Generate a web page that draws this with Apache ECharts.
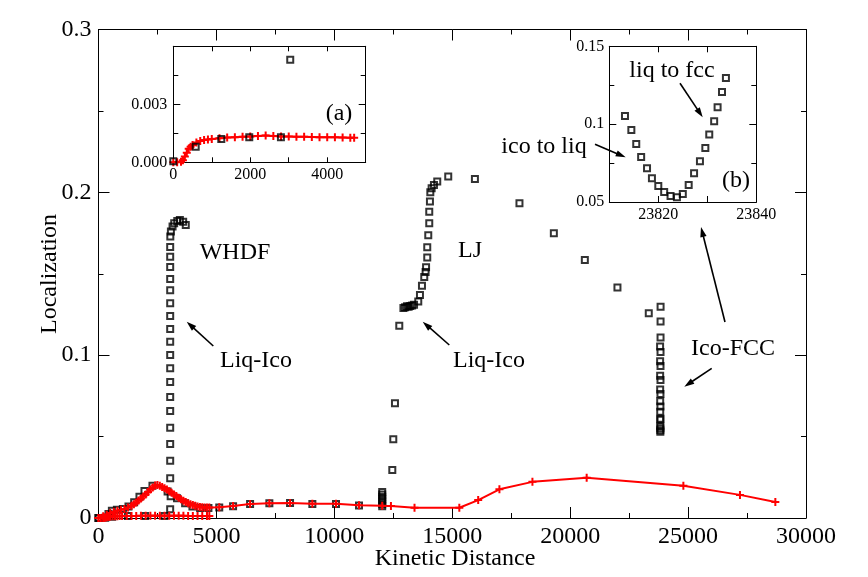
<!DOCTYPE html>
<html>
<head>
<meta charset="utf-8">
<script src="https://cdn.jsdelivr.net/npm/echarts@6/dist/echarts.min.js"></script>
<style>html,body{margin:0;padding:0;background:#fff}#c{width:868px;height:577px}</style>
</head>
<body>
<div id="c"></div>
<script>
// ---------- data ----------
const mainXTicks = [0, 5000, 10000, 15000, 20000, 25000, 30000];
const mainYTicks = [0, 0.1, 0.2, 0.3];

// WHDF open squares (x, localization)
const whdfSquares = [
  [0,0.00005],[582,0.0008],[1247,0.0012],[1974,0.0013],[2797,0.0013],[3039,0.0053],
  [3040,0.0244],[3040,0.0352],[3040,0.0455],[3040,0.0555],[3040,0.0657],[3040,0.0743],
  [3040,0.0835],[3040,0.092],[3040,0.1001],[3040,0.1083],[3040,0.1161],[3040,0.1241],
  [3040,0.1319],[3040,0.1399],[3040,0.1468],[3040,0.1542],[3040,0.1605],[3040,0.1665],
  [3045,0.1728],[3070,0.176],[3140,0.179],[3210,0.181],[3340,0.1824],[3450,0.183],
  [3590,0.182],[3700,0.180]
];
// WHDF red curve
const whdfCurve = [
  [0,0],[100,0],[200,0.00003],[250,0.0001],[300,0.0003],[350,0.0005],[400,0.0007],
  [450,0.0008],[500,0.0009],[600,0.00102],[700,0.0011],[800,0.00115],[900,0.00118],
  [1000,0.0012],[1200,0.00124],[1400,0.00128],[1600,0.0013],[1800,0.00132],[2000,0.00134],
  [2200,0.00136],[2400,0.00138],[2600,0.00136],[2800,0.00134],[3000,0.00134],[3200,0.00132],
  [3400,0.00132],[3600,0.00131],[3800,0.0013],[4000,0.0013],[4200,0.00129],[4400,0.00128],
  [4600,0.00127],[4700,0.00127]
];
// LJ open squares
const ljSquares = [
  [0,0],[284,0.0002],[424,0.0025],[567,0.0045],[780,0.005],[1034,0.0055],[1271,0.007],
  [1513,0.0096],[1737,0.013],[1949,0.0166],[2288,0.0198],[2930,0.0162],[3060,0.0133],
  [3330,0.0121],[3673,0.009],[3983,0.007],[4309,0.0061],[4661,0.0061],[5120,0.0065],
  [5707,0.0072],[6428,0.0086],[7245,0.009],[8122,0.0092],[9068,0.0086],[10071,0.0086],
  [11046,0.0076],[12030,0.0072],[12030,0.0085],[12030,0.0100],[12030,0.0115],[12030,0.0130],
  [12030,0.0145],[12030,0.016],[12458,0.0295],[12500,0.0483],[12571,0.0704],[12754,0.1181],
  [12930,0.1290],[13000,0.1295],[13080,0.1300],[13150,0.1297],[13220,0.1302],[13300,0.1305],
  [13380,0.1310],[13559,0.133],[13631,0.137],[13716,0.1427],[13813,0.148],[13870,0.151],
  [13890,0.154],[13940,0.160],[13940,0.1663],[13983,0.1736],[14025,0.181],[14025,0.188],
  [14054,0.1943],[14070,0.200],[14126,0.2025],[14224,0.2045],[14364,0.2066],[14830,0.2097],
  [15961,0.2082],[17850,0.1933],[19308,0.1749],[20622,0.1585],[22005,0.1415],[23333,0.1257]
];
// LJ ico -> liq -> fcc points (inset b and the vertical column)
const ljFccSquares = [
  [23813.2,0.1053],[23814.5,0.0963],[23815.5,0.0873],[23816.5,0.0789],[23817.7,0.0717],
  [23818.7,0.0652],[23820.0,0.0603],[23821.2,0.0564],[23822.5,0.0539],[23823.8,0.0530],
  [23825.0,0.0551],[23826.2,0.0609],[23827.3,0.0684],[23828.5,0.0761],[23829.6,0.0847],
  [23830.4,0.0933],[23831.4,0.1019],[23832.1,0.1109],[23833.0,0.1207],[23833.8,0.1297]
];
// LJ red curve
const ljCurve = [
  [0,0],[200,0.001],[350,0.002],[500,0.003],[650,0.0038],[800,0.0045],[950,0.005],
  [1100,0.0055],[1250,0.0064],[1400,0.0075],[1500,0.0085],[1600,0.0095],[1700,0.0107],
  [1800,0.012],[1900,0.0132],[2000,0.0145],[2100,0.016],[2200,0.0175],[2300,0.0188],
  [2400,0.020],[2500,0.0203],[2600,0.0198],[2700,0.019],[2800,0.0183],[2900,0.0175],
  [3000,0.0165],[3100,0.0155],[3200,0.0145],[3300,0.0135],[3400,0.0125],[3500,0.0115],
  [3600,0.0106],[3700,0.0098],[3800,0.0091],[3900,0.0085],[4000,0.008],[4100,0.0075],
  [4200,0.0071],[4300,0.0068],[4400,0.0066],[4500,0.0065],[4600,0.0064],[4700,0.0064],
  [5120,0.0066],[5707,0.0074],[6428,0.0086],[7245,0.009],[8122,0.0092],[9068,0.0088],
  [10071,0.0087],[11046,0.0078],[12030,0.0075],[12400,0.0074],[13400,0.0063],
  [15300,0.0063],[16100,0.011],[17000,0.0176],[18400,0.0222],[20700,0.0247],
  [24800,0.0198],[27200,0.0142],[28700,0.0098]
];
const insetAXTicks = [0, 2000, 4000];
const insetAYTicks = [0, 0.003];
const insetBXTicks = [23820, 23840];
const insetBYTicks = [0.05, 0.1, 0.15];

// ---------- styling ----------
const SERIF = '"Liberation Serif", "DejaVu Serif", serif';
const black = '#000';
const plusPath = 'path://M3,0H5V3H8V5H5V8H3V5H0V3H3Z';
const sqStyle = {color: 'rgba(0,0,0,0)', borderColor: black, borderWidth: 2};

const chart = echarts.init(document.getElementById('c'), null, {renderer: 'canvas'});

function xAx(grid, pos, opts) {
  return Object.assign({
    type: 'value', gridIndex: grid, position: pos,
    axisLine: {show: true, onZero: false, lineStyle: {color: black, width: 1}},
    axisTick: {show: true, inside: true, length: 11, lineStyle: {color: black, width: 1}},
    minorTick: {show: true, splitNumber: 2, length: 5, lineStyle: {color: black, width: 1}},
    splitLine: {show: false}, minorSplitLine: {show: false}
  }, opts);
}

const labelMain = {fontFamily: SERIF, fontSize: 24, color: black};
const labelSmall = {fontFamily: SERIF, fontSize: 16, color: black};
const smallTick = {show: true, inside: true, length: 7, lineStyle: {color: black}};
const smallMinor = {show: true, splitNumber: 2, length: 5, lineStyle: {color: black}};

const option = {
  animation: false,
  backgroundColor: '#fff',
  grid: [
    {left: 98.5, top: 29.5, width: 707.5, height: 488.5, containLabel: false},
    {left: 173.3, top: 46.3, width: 192.4, height: 116, containLabel: false, show: true, backgroundColor: '#fff', borderWidth: 0},
    {left: 609.3, top: 46.3, width: 147, height: 155.7, containLabel: false, show: true, backgroundColor: '#fff', borderWidth: 0}
  ],
  xAxis: [
    xAx(0, 'bottom', {min: 0, max: 30000, interval: 5000,
      axisLabel: Object.assign({margin: 7, showMaxLabel: true, showMinLabel: true,
        formatter: v => mainXTicks.includes(v) ? String(v) : ''}, labelMain)}),
    xAx(0, 'top', {min: 0, max: 30000, interval: 5000, axisLabel: {show: false}}),
    xAx(1, 'bottom', {min: 0, max: 5000, interval: 1000,
      axisTick: {show: true, inside: true, length: 5, lineStyle: {color: black}},
      minorTick: {show: false},
      axisLabel: Object.assign({margin: 4, showMaxLabel: false,
        formatter: v => insetAXTicks.includes(v) ? String(v) : ''}, labelSmall)}),
    xAx(1, 'top', {min: 0, max: 5000, interval: 1000,
      axisTick: {show: true, inside: true, length: 5, lineStyle: {color: black}},
      minorTick: {show: false}, axisLabel: {show: false}}),
    xAx(2, 'bottom', {min: 23810, max: 23840, interval: 10,
      axisTick: {show: true, inside: true, length: 6, lineStyle: {color: black}},
      minorTick: {show: false},
      axisLabel: Object.assign({margin: 5, showMaxLabel: true,
        formatter: v => insetBXTicks.includes(Math.round(v)) ? String(Math.round(v)) : ''}, labelSmall)}),
    xAx(2, 'top', {min: 23810, max: 23840, interval: 10,
      axisTick: {show: true, inside: true, length: 6, lineStyle: {color: black}},
      minorTick: {show: false}, axisLabel: {show: false}})
  ],
  yAxis: [
    xAx(0, 'left', {min: 0, max: 0.3, interval: 0.1,
      axisLabel: Object.assign({margin: 7,
        formatter: v => v === 0 ? '0' : (+v.toFixed(1)).toString()}, labelMain)}),
    xAx(0, 'right', {min: 0, max: 0.3, interval: 0.1, axisLabel: {show: false}}),
    xAx(1, 'left', {min: 0, max: 0.006, interval: 0.003, axisTick: smallTick, minorTick: smallMinor,
      axisLabel: Object.assign({margin: 6, showMaxLabel: false,
        formatter: v => v.toFixed(3)}, labelSmall)}),
    xAx(1, 'right', {min: 0, max: 0.006, interval: 0.003, axisTick: smallTick, minorTick: smallMinor,
      axisLabel: {show: false}}),
    xAx(2, 'left', {min: 0.05, max: 0.15, interval: 0.05, axisTick: smallTick, minorTick: smallMinor,
      axisLabel: Object.assign({margin: 5, showMaxLabel: true,
        formatter: v => (+v.toFixed(2)).toString()}, labelSmall)}),
    xAx(2, 'right', {min: 0.05, max: 0.15, interval: 0.05, axisTick: smallTick, minorTick: smallMinor,
      axisLabel: {show: false}})
  ],
  series: [
    {type: 'scatter', name: 'LJ', xAxisIndex: 0, yAxisIndex: 0, data: ljSquares.concat(ljFccSquares),
     symbol: 'rect', symbolSize: 6, itemStyle: sqStyle, z: 3},
    {type: 'scatter', name: 'WHDF', xAxisIndex: 0, yAxisIndex: 0, data: whdfSquares,
     symbol: 'rect', symbolSize: 6, itemStyle: sqStyle, z: 3},
    {type: 'line', name: 'LJ fit', xAxisIndex: 0, yAxisIndex: 0, data: ljCurve,
     symbol: plusPath, symbolSize: 8, showSymbol: true, showAllSymbol: true,
     itemStyle: {color: '#ff0000'}, lineStyle: {color: '#ff0000', width: 2}, z: 4},
    {type: 'line', name: 'WHDF fit', xAxisIndex: 0, yAxisIndex: 0, data: whdfCurve,
     symbol: plusPath, symbolSize: 8, showSymbol: true, showAllSymbol: true,
     itemStyle: {color: '#ff0000'}, lineStyle: {color: '#ff0000', width: 2}, z: 4},
    {type: 'scatter', name: 'WHDF (a)', xAxisIndex: 2, yAxisIndex: 2, data: whdfSquares, clip: true,
     symbol: 'rect', symbolSize: 6, itemStyle: sqStyle, z: 5},
    {type: 'line', name: 'WHDF fit (a)', xAxisIndex: 2, yAxisIndex: 2, data: whdfCurve, clip: true,
     symbol: plusPath, symbolSize: 8, showSymbol: true, showAllSymbol: true,
     itemStyle: {color: '#ff0000'}, lineStyle: {color: '#ff0000', width: 2}, z: 4},
    {type: 'scatter', name: 'LJ (b)', xAxisIndex: 4, yAxisIndex: 4, data: ljFccSquares, clip: true,
     symbol: 'rect', symbolSize: 6, itemStyle: sqStyle, z: 5}
  ]
};

// ---------- annotations ----------
function arrow(x1, y1, x2, y2) {
  const dx = x2 - x1, dy = y2 - y1, L = Math.hypot(dx, dy), ux = dx / L, uy = dy / L;
  const hl = 10, hw = 3.2;
  const bx = x2 - ux * hl, by = y2 - uy * hl, px = -uy, py = ux;
  return [
    {type: 'line', shape: {x1: x1, y1: y1, x2: bx + ux * 2, y2: by + uy * 2}, style: {stroke: black, lineWidth: 1.6}, z: 20},
    {type: 'polygon', shape: {points: [[x2, y2], [bx + px * hw, by + py * hw], [bx - px * hw, by - py * hw]]}, style: {fill: black}, z: 20}
  ];
}
function txt(t, x, y, size, rot) {
  return {type: 'text', x: x, y: y, rotation: rot || 0, z: 20,
    style: {text: t, fontFamily: SERIF, fontSize: size, fill: black, align: 'center', verticalAlign: 'middle'}};
}
option.graphic = [].concat(
  [txt('WHDF', 235, 253, 24), txt('Liq-Ico', 256, 361, 24), txt('LJ', 470, 251, 24),
   txt('Liq-Ico', 489, 361, 24), txt('Ico-FCC', 733, 349, 24),
   txt('ico to liq', 544, 147, 24), txt('liq to fcc', 672, 71, 24),
   txt('(a)', 339, 114, 24), txt('(b)', 736, 181, 24),
   txt('Kinetic Distance', 455, 559, 24), txt('Localization', 50, 274, 24, Math.PI / 2)],
  arrow(213.3, 346, 186.7, 321.7),
  arrow(449.3, 345, 422.7, 321.7),
  arrow(711.7, 368.3, 684.3, 386.7),
  arrow(725, 322, 701, 227),
  arrow(595, 144.3, 625.7, 157.3),
  arrow(680, 83.3, 702.7, 117.3)
);

chart.setOption(option);
</script>
</body>
</html>
